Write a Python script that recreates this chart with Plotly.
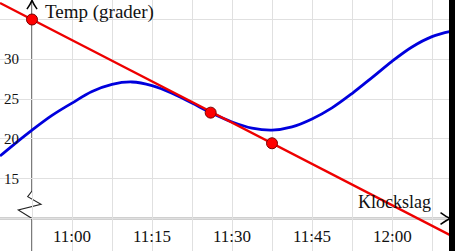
import numpy as np
import plotly.graph_objects as go

# minutes after 11:00
curve_t = [-13.5, -11.25, -7.5, -3.75, 0, 3.75, 7.5, 11.25, 15, 18.75, 22.5, 26.25,
           30, 33.75, 37.5, 41.25, 45, 48.75, 52.5, 56.25, 60, 63.75, 67.5, 71]
curve_T = [17.85, 19.1, 21.1, 22.95, 24.5, 25.95, 26.85, 27.15, 26.7, 25.75, 24.5, 23.22,
           22.13, 21.36, 21.1, 21.5, 22.5, 23.9, 25.7, 27.7, 29.75, 31.55, 32.85, 33.5]

point_t = [-7.5, 26.0, 37.5]
point_T = [35.0, 23.3, 19.45]

tick_t = [0, 15, 30, 45, 60]
tick_text = ["11:00", "11:15", "11:30", "11:45", "12:00"]
ytick_vals = [15, 20, 25, 30]

XR = [-13.5, 71.8125]
YR = [5.917, 37.45]
AX_T = -7.5   # y-axis position
AX_Y = 10.0   # x-axis position

# tangent line through first and third marked point, extended over the range
slope = (point_T[2] - point_T[0]) / (point_t[2] - point_t[0])
line_t = np.array(XR)
line_T = point_T[0] + slope * (line_t - point_t[0])

FONT = "Liberation Serif"
fig = go.Figure()

fig.add_trace(go.Scatter(x=curve_t, y=curve_T, mode="lines",
                         line=dict(color="#0000dd", width=2.8, shape="spline", smoothing=1.0),
                         hoverinfo="skip"))
fig.add_trace(go.Scatter(x=line_t, y=line_T, mode="lines", line=dict(color="#ee0000", width=2.4), hoverinfo="skip"))
fig.add_trace(go.Scatter(x=point_t, y=point_T, mode="markers",
                         marker=dict(color="#ff0000", size=11, line=dict(color="#7a0000", width=1)), hoverinfo="skip"))

axis_col = "#444444"
shapes = []
shapes.append(dict(type="line", x0=AX_T, x1=AX_T, y0=13.45, y1=YR[1] - 0.1, line=dict(color=axis_col, width=1.4), layer="below"))
shapes.append(dict(type="path", path=f"M {AX_T},13.45 L -8.31,12.74 L -5.81,11.78 L -10.07,11.07 L {AX_T},{AX_Y}",
                   line=dict(color="#222222", width=1.1), layer="below"))
shapes.append(dict(type="line", x0=AX_T, x1=AX_T, y0=YR[0], y1=AX_Y, line=dict(color=axis_col, width=1.4), layer="below"))
shapes.append(dict(type="line", x0=XR[0], x1=70.9, y0=AX_Y, y1=AX_Y, line=dict(color=axis_col, width=1.4), layer="below"))
shapes.append(dict(type="path", path="M 69.1,10.75 Q 70.2,10.2 70.95,10 Q 70.2,9.8 69.1,9.25",
                   line=dict(color="#000000", width=1.5)))
shapes.append(dict(type="path", path="M -8.45,36.3 Q -7.8,36.9 -7.5,37.4 Q -7.2,36.9 -6.55,36.3",
                   line=dict(color="#000000", width=1.5)))
shapes.append(dict(type="rect", xref="paper", yref="paper", x0=449 / 455, x1=1.01, y0=-0.01, y1=1.01,
                   fillcolor="#000000", line=dict(width=0), layer="above"))

annotations = []
for t, s in zip(tick_t, tick_text):
    annotations.append(dict(x=t, y=7.68, text=s, showarrow=False, xanchor="center", yanchor="middle",
                            font=dict(family=FONT, size=17, color="#111111")))
for v in ytick_vals:
    annotations.append(dict(x=-9.6, y=v, text=str(v), showarrow=False, xanchor="right", yanchor="middle",
                            font=dict(family=FONT, size=15, color="#111111")))
annotations.append(dict(x=-5.4, y=35.95, text="Temp (grader)", showarrow=False, xanchor="left", yanchor="middle",
                        font=dict(family=FONT, size=19, color="#111111")))
annotations.append(dict(x=60.4, y=12.1, text="Klockslag", showarrow=False, xanchor="center", yanchor="middle",
                        font=dict(family=FONT, size=18, color="#111111")))

fig.update_layout(
    width=455, height=251, margin=dict(l=0, r=0, t=0, b=0),
    paper_bgcolor="white", plot_bgcolor="white", showlegend=False,
    shapes=shapes, annotations=annotations,
    xaxis=dict(range=XR, tick0=0, dtick=7.5, showgrid=True, gridcolor="#e0e0e0", gridwidth=1.3,
               showticklabels=False, zeroline=False, showline=False, fixedrange=True),
    yaxis=dict(range=YR, tick0=0, dtick=5, showgrid=True, gridcolor="#e0e0e0", gridwidth=1.3,
               showticklabels=False, zeroline=False, showline=False, fixedrange=True),
)
fig.write_html("out.html", config={"displayModeBar": False})
